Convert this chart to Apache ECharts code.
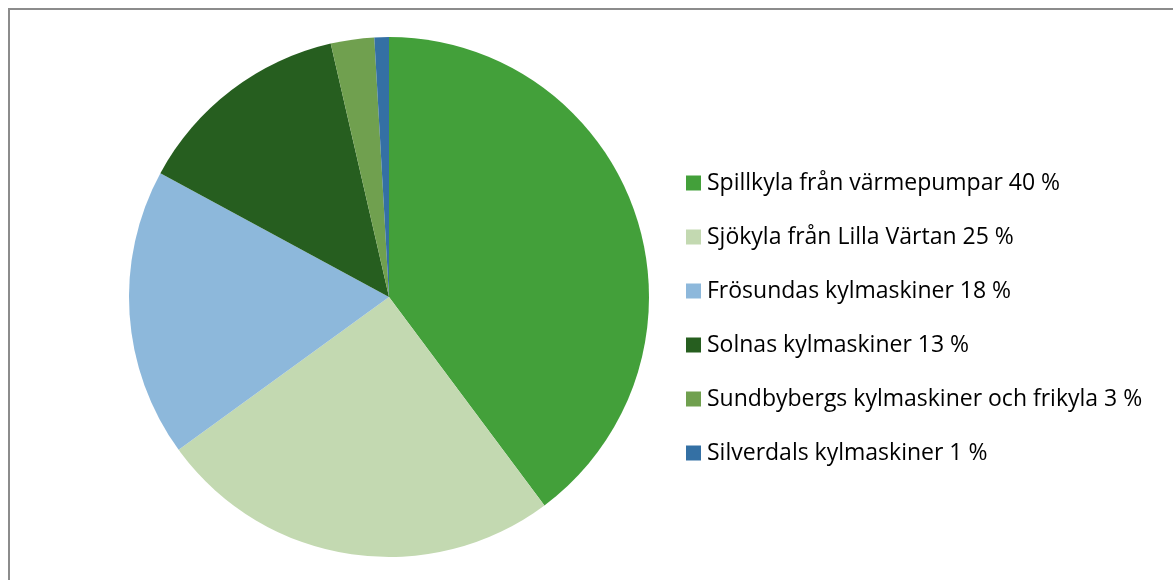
<!DOCTYPE html>
<html>
<head>
<meta charset="utf-8">
<script src="https://cdn.jsdelivr.net/npm/echarts@6/dist/echarts.min.js"></script>
<style>
  html, body { margin: 0; padding: 0; background: #fff; }
  #frame {
    position: absolute; left: 8px; top: 8px; width: 1180px; height: 590px;
    border: 2px solid #8c8c8c; box-sizing: border-box;
  }
  #chart { position: absolute; left: 0; top: 0; width: 1173px; height: 580px; }
</style>
</head>
<body>
<div id="frame"></div>
<div id="chart"></div>
<script>
// källor för fjärrkyla, andel i procent
const names = [
  'Spillkyla från värmepumpar 40 %',
  'Sjökyla från Lilla Värtan 25 %',
  'Frösundas kylmaskiner 18 %',
  'Solnas kylmaskiner 13 %',
  'Sundbybergs kylmaskiner och frikyla 3 %',
  'Silverdals kylmaskiner 1 %'
]
const values = [39.8, 25.2, 17.9, 13.5, 2.7, 0.9]
const colors = ['#43a03a', '#c3d9b1', '#8db8db', '#265e1f', '#70a04f', '#3470a4']

const chart = echarts.init(document.getElementById('chart'))
chart.setOption({
  animation: false,
  color: colors,
  legend: {
    orient: 'vertical',
    left: 686,
    top: 171,
    padding: 0,
    itemWidth: 15,
    itemHeight: 15,
    itemGap: 30,
    icon: 'rect',
    textStyle: {
      fontFamily: 'Open Sans',
      fontSize: 23,
      color: '#000',
      lineHeight: 24,
      padding: [0, 0, 0, 1]
    },
    data: names
  },
  series: [{
    type: 'pie',
    center: [389, 297],
    radius: [0, 260],
    startAngle: 90,
    clockwise: true,
    label: { show: false },
    labelLine: { show: false },
    emphasis: { scale: false },
    itemStyle: { borderWidth: 0 },
    data: names.map((n, i) => ({ name: n, value: values[i] }))
  }]
})
</script>
</body>
</html>
